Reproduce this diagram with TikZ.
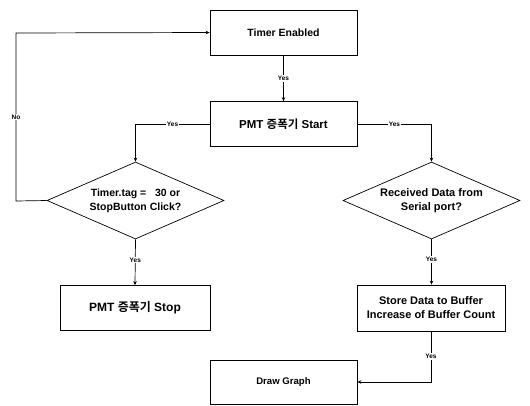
\documentclass[tikz,border=0pt]{standalone}
\usepackage{fontspec}
\setmainfont{Liberation Sans}
\newfontfamily\kr{Noto Sans CJK KR}[BoldFont={Noto Sans CJK KR Bold}]
\usetikzlibrary{shapes.geometric,arrows.meta}
\begin{document}
\begin{tikzpicture}[x=1pt,y=-1pt,
  box/.style={draw,line width=0.7pt,minimum width=147pt,minimum height=45pt,inner sep=0pt,align=center},
  dia/.style={draw,line width=0.7pt,diamond,aspect=2.3,minimum width=177pt,minimum height=77pt,inner sep=0pt,align=center},
  conn/.style={line width=0.7pt,-{Stealth[length=4pt,width=3.5pt]}},
  lab/.style={fill=white,inner sep=1pt,font=\fontsize{6.5}{7}\selectfont\bfseries}]
\useasboundingbox (0,0) rectangle (530,405);
\node[box,font=\fontsize{10.5}{12}\selectfont\bfseries] (te) at (283.5,32.5) {Timer Enabled};
\node[box,font=\fontsize{11.5}{13}\selectfont\bfseries] (ps) at (283.5,124) {PMT {\kr 증폭기} Start};
\node[dia,font=\fontsize{10.5}{14}\selectfont\bfseries] (d1) at (135.5,200.5) {Timer.tag =\ \ \ 30 or\\StopButton Click?};
\node[dia,font=\fontsize{11}{14.5}\selectfont\bfseries] (d2) at (431.5,200.5) {Received Data from\\Serial port?};
\node[box,minimum width=150pt,font=\fontsize{12}{13}\selectfont\bfseries] (pstop) at (135,308) {PMT {\kr 증폭기} Stop};
\node[box,minimum width=148pt,minimum height=46pt,font=\fontsize{11}{14}\selectfont\bfseries] (sd) at (431,308) {Store Data to Buffer\\Increase of Buffer Count};
\node[box,minimum height=44pt,font=\fontsize{9.6}{11}\selectfont\bfseries] (dg) at (283.5,382) {Draw Graph};
\coordinate (nl) at (16,201);
\coordinate (nt) at (16,33);
\draw[conn] (te) -- node[lab]{Yes} (ps);
\draw[conn] (ps.west) -- node[lab]{Yes} (135.5,124) -- (d1.north);
\draw[conn] (ps.east) -- node[lab]{Yes} (431.5,124) -- (d2.north);
\draw[conn] (d1.west) -- (nl) -- node[lab]{No} (nt) -- (te.west);
\draw[conn] (d1.south) -- node[lab,pos=0.45]{Yes} (pstop.north);
\draw[conn] (d2.south) -- node[lab,pos=0.45]{Yes} (sd.north -| d2.south);
\coordinate (sb) at (431,382);
\draw[conn] (sd.south) -- node[lab]{Yes} (sb) -- (dg.east);
\end{tikzpicture}
\end{document}
